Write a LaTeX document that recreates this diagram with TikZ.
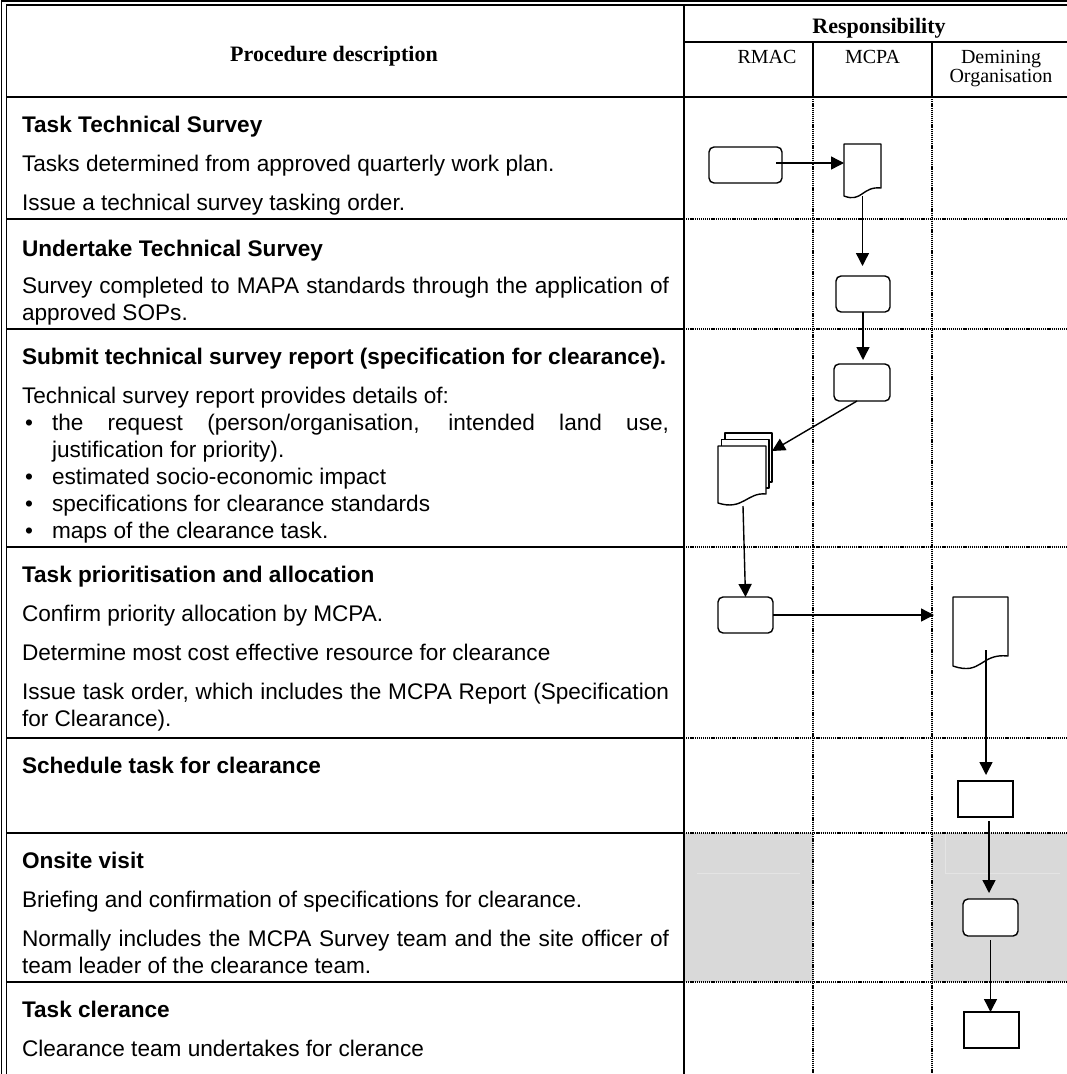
\documentclass[tikz,border=0pt]{standalone}
\usepackage{fontspec}
\setmainfont{Liberation Sans}
\newfontfamily\seriffont{Liberation Serif}
\usetikzlibrary{arrows.meta,calc}
\definecolor{cellgray}{HTML}{D9D9D9}
\definecolor{faintgray}{HTML}{E4E4E4}
\begin{document}
\begin{tikzpicture}[x=1pt,y=-1pt,
  every node/.style={inner sep=0pt,outer sep=0pt},
  body/.style={anchor=base west,font=\fontsize{22.6}{27}\selectfont},
  head/.style={anchor=base west,font=\fontsize{22.6}{27}\selectfont\bfseries},
  hdr/.style={anchor=base,font=\fontsize{22}{26}\selectfont\seriffont\bfseries},
  col/.style={anchor=base,font=\fontsize{20}{23}\selectfont\seriffont},
  solidline/.style={line width=1.2pt},
  dotline/.style={line width=1.2pt,dash pattern=on 1.2pt off 0.9pt},
  proc/.style={draw,line width=1.4pt,rounded corners=5pt,fill=white},
  sq/.style={draw,line width=1.4pt,fill=white},
  ghost/.style={draw=none},
  shp/.style={draw,line width=1.4pt,fill=white,line join=round},
  flow/.style={line width=1.4pt,-{Triangle[length=13pt,width=13pt]}}
]
\useasboundingbox (0,0) rectangle (1067,1074);

% shading
\fill[cellgray] (684,833) rectangle (813,982);
\fill[cellgray] (932,833) rectangle (1067,982);
\draw[faintgray,line width=0.8pt] (697,873) -- (800,873);
\draw[faintgray,line width=0.8pt] (945.7,833) -- (945.7,873) -- (1060,873);

% table grid
\draw[solidline] (1.5,1074) -- (1.5,1) -- (1067,1);
\draw[solidline] (6.5,1074) -- (6.5,5) -- (1067,5);
\draw[solidline] (684,5) -- (684,1074);
\draw[solidline] (684,42) -- (1067,42);
\draw[solidline] (813,42) -- (813,97);
\draw[solidline] (932,42) -- (932,97);
\draw[solidline] (6.5,97) -- (1067,97);
\foreach \yy in {219,329,547,738,833,982}{
  \draw[solidline] (6.5,\yy) -- (684,\yy);
  \draw[dotline] (684,\yy) -- (1067,\yy);
}
\draw[dotline] (813,97) -- (813,1074);
\draw[dotline] (932,97) -- (932,1074);

% header
\node[hdr] (hproc) at (334,61) {Procedure description};
\node[hdr] (hresp) at (879,33) {Responsibility};
\node[col] (hrmac) at (767,63) {RMAC};
\node[col] (hmcpa) at (872.5,63) {MCPA};
\node[col] (hdem1) at (1001,63) {Demining};
\node[col] (hdem2) at (1001,82) {Organisation};

% block 1
\node[head] (a0) at (22,132) {Task Technical Survey};
\node[body] (a1) at (22,171) {Tasks determined from approved quarterly work plan.};
\node[body] (a2) at (22,210) {Issue a technical survey tasking order.};
% block 2
\node[head] (b0) at (22,256) {Undertake Technical Survey};
\node[body] (b1) at (22,293) {\makebox[647pt][s]{Survey completed to MAPA standards through the application of}};
\node[body] (b2) at (22,320) {approved SOPs.};
% block 3
\node[head] (c0) at (22,364) {Submit technical survey report (specification for clearance).};
\node[body] (c1) at (22,403) {Technical survey report provides details of:};
\node[body] (cb1) at (25,430) {\textbullet};
\node[body] (c2) at (52,430) {\makebox[617pt][s]{the request (person/organisation, intended land use,}};
\node[body] (c3) at (52,457) {justification for priority).};
\node[body] (cb2) at (25,484) {\textbullet};
\node[body] (c4) at (52,484) {estimated socio-economic impact};
\node[body] (cb3) at (25,511) {\textbullet};
\node[body] (c5) at (52,511) {specifications for clearance standards};
\node[body] (cb4) at (25,538) {\textbullet};
\node[body] (c6) at (52,538) {maps of the clearance task.};
% block 4
\node[head] (d0) at (22,582) {Task prioritisation and allocation};
\node[body] (d1t) at (22,621) {Confirm priority allocation by MCPA.};
\node[body] (d2t) at (22,660) {Determine most cost effective resource for clearance};
\node[body] (d3t) at (22,699) {\makebox[647pt][s]{Issue task order, which includes the MCPA Report (Specification}};
\node[body] (d4t) at (22,726) {for Clearance).};
% block 5
\node[head] (e0) at (22,773) {Schedule task for clearance};
% block 6
\node[head] (f0) at (22,868) {Onsite visit};
\node[body] (f1) at (22,907) {Briefing and confirmation of specifications for clearance.};
\node[body] (f2) at (22,946) {\makebox[647pt][s]{Normally includes the MCPA Survey team and the site officer of}};
\node[body] (f3) at (22,973) {team leader of the clearance team.};
% block 7
\node[head] (g0) at (22,1017) {Task clerance};
\node[body] (g1) at (22,1056) {Clearance team undertakes for clerance};

% flow shapes
\node[proc,minimum width=73pt,minimum height=36pt] (s1) at (745.5,165) {};
\node[ghost,minimum width=37pt,minimum height=52pt] (d1) at (862.5,170) {};
\draw[shp] (d1.north west) -- (d1.north east) -- ([yshift=8pt]d1.south east)
  .. controls ([xshift=-19pt,yshift=10pt]d1.south east) and ([xshift=18pt,yshift=-7pt]d1.south west) .. (d1.south west) -- cycle;
\node[proc,minimum width=54pt,minimum height=36pt] (s2) at (863,294) {};
\node[proc,minimum width=56pt,minimum height=37pt] (s3) at (862,382.5) {};
\node[ghost,minimum width=54pt,minimum height=70pt] (m) at (745,468) {};
\draw[shp] (725,433) rectangle (772,482);
\draw[shp] (721.5,439.5) rectangle (769,488);
\draw[shp] (718,446) -- (766,446) -- (766,494) .. controls (747,492) and (743,511) .. (718,503) -- cycle;
\node[proc,minimum width=55pt,minimum height=36pt] (s4) at (745.5,615) {};
\node[ghost,minimum width=55pt,minimum height=69pt] (d2) at (980.5,631.5) {};
\draw[shp] (d2.north west) -- (d2.north east) -- ([yshift=10pt]d2.south east)
  .. controls ([xshift=-28pt,yshift=13pt]d2.south east) and ([xshift=29pt,yshift=-10pt]d2.south west) .. (d2.south west) -- cycle;
\node[sq,minimum width=55pt,minimum height=36pt] (s5) at (985.5,799) {};
\node[proc,minimum width=55pt,minimum height=37pt] (s6) at (990.5,917.5) {};
\node[sq,minimum width=55pt,minimum height=36pt] (s7) at (991.5,1030) {};

% connectors
\draw[flow,shorten <=-6pt] ([yshift=2pt]s1.east) -- ([yshift=2pt]s1.east -| d1.west);
\draw[flow,shorten >=10pt] (d1.south) -- (d1.south |- s2.north);
\draw[flow,shorten >=4pt] (s2.south) -- (s2.south |- s3.north);
\draw[flow] ([xshift=-5pt]s3.south) -- ([yshift=17pt]m.east);
\draw[flow] ([xshift=-2pt,yshift=-3pt]m.south) -- (s4.north);
\draw[flow,shorten >=19pt] (s4.east) -- (s4.east -| d2.west);
\coordinate (d2out) at ([xshift=5.5pt,yshift=-18.5pt]d2.center);
\draw[flow,shorten >=6pt] (d2out) -- (d2out |- s5.north);
\coordinate (s5out) at ([xshift=3.5pt]s5.south);
\draw[flow,shorten <=4pt,shorten >=6pt] (s5out) -- (s5out |- s6.north);
\draw[flow,shorten <=4pt] (s6.south) -- (s6.south |- s7.north);
\end{tikzpicture}
\end{document}
